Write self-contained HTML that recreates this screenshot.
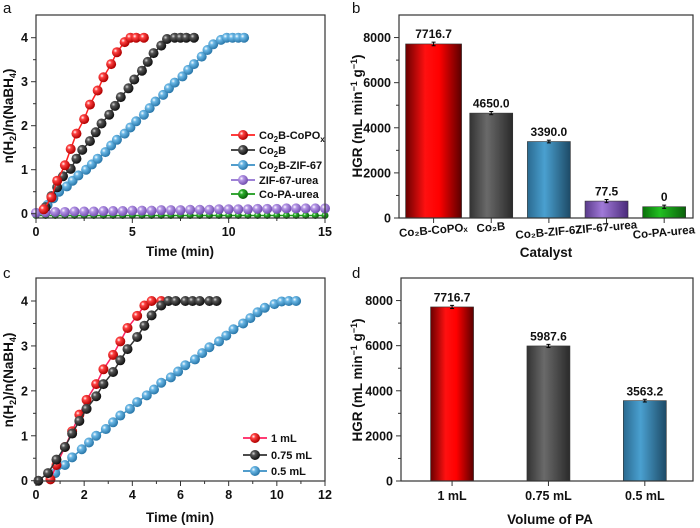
<!DOCTYPE html>
<html><head><meta charset="utf-8"><style>
body{margin:0;background:#fff}
svg{display:block;font-family:"Liberation Sans",Arial,sans-serif}
text{font-weight:bold;fill:#111}
</style></head><body>
<svg id="fig" width="700" height="528" viewBox="0 0 700 528">
<defs>
<radialGradient id="sp-red" cx="35%" cy="35%" r="65%"><stop offset="0" stop-color="#fff"/><stop offset="0.3" stop-color="#ff4040"/><stop offset="1" stop-color="#b00000"/></radialGradient>
<radialGradient id="sp-black" cx="35%" cy="35%" r="65%"><stop offset="0" stop-color="#ddd"/><stop offset="0.3" stop-color="#555"/><stop offset="1" stop-color="#111"/></radialGradient>
<radialGradient id="sp-blue" cx="35%" cy="35%" r="65%"><stop offset="0" stop-color="#fff"/><stop offset="0.3" stop-color="#6bb8e6"/><stop offset="1" stop-color="#2a78aa"/></radialGradient>
<radialGradient id="sp-purple" cx="35%" cy="35%" r="65%"><stop offset="0" stop-color="#fff"/><stop offset="0.3" stop-color="#b596e6"/><stop offset="1" stop-color="#7350b0"/></radialGradient>
<radialGradient id="sp-green" cx="35%" cy="35%" r="65%"><stop offset="0" stop-color="#dfd"/><stop offset="0.3" stop-color="#2cb02c"/><stop offset="1" stop-color="#0a600a"/></radialGradient>
<linearGradient id="bar-red" x1="0" x2="1"><stop offset="0" stop-color="#6a0000"/><stop offset="0.35" stop-color="#ff1010"/><stop offset="0.6" stop-color="#f00"/><stop offset="1" stop-color="#5a0000"/></linearGradient>
<linearGradient id="bar-black" x1="0" x2="1"><stop offset="0" stop-color="#333"/><stop offset="0.4" stop-color="#6a6a6a"/><stop offset="1" stop-color="#2a2a2a"/></linearGradient>
<linearGradient id="bar-blue" x1="0" x2="1"><stop offset="0" stop-color="#2a6a90"/><stop offset="0.4" stop-color="#4aa0d0"/><stop offset="1" stop-color="#1d4a66"/></linearGradient>
<linearGradient id="bar-purple" x1="0" x2="1"><stop offset="0" stop-color="#5a3a8a"/><stop offset="0.4" stop-color="#a07ad8"/><stop offset="1" stop-color="#4a2a7a"/></linearGradient>
<linearGradient id="bar-green" x1="0" x2="1"><stop offset="0" stop-color="#0a700a"/><stop offset="0.4" stop-color="#22c022"/><stop offset="1" stop-color="#0a600a"/></linearGradient>
</defs>
</svg>
<script>
// Panel a data
const aRedT=[0.4,0.8,1.1,1.5,1.8,2.1,2.5,2.8,3.2,3.5,3.9,4.2,4.6,4.9,5.2,5.6];
const aRedY=[0.1,0.37,0.75,1.1,1.47,1.82,2.15,2.48,2.8,3.1,3.4,3.67,3.9,4.0,4.0,4.0];
const aBlackT=[0.5,0.8,1.1,1.4,1.8,2.1,2.4,2.8,3.1,3.4,3.8,4.1,4.4,4.8,5.1,5.5,5.8,6.1,6.5,6.8,7.2,7.5,7.8,8.2];
const aBlackY=[0.15,0.4,0.6,0.85,1.02,1.25,1.45,1.65,1.85,2.05,2.25,2.45,2.65,2.85,3.05,3.25,3.45,3.65,3.82,3.97,4.0,4.0,4.0,4.0];
const aBlueT=[0.6,0.9,1.2,1.6,1.9,2.2,2.6,2.9,3.2,3.6,3.9,4.2,4.6,4.9,5.2,5.6,5.9,6.2,6.6,6.9,7.2,7.6,7.9,8.2,8.6,8.9,9.2,9.6,9.9,10.2,10.5,10.8];
const aBlueY=[0.2,0.35,0.5,0.62,0.75,0.87,1.0,1.12,1.25,1.4,1.55,1.68,1.82,1.96,2.1,2.25,2.4,2.55,2.7,2.85,2.98,3.12,3.27,3.4,3.57,3.72,3.85,3.95,4.0,4.0,4.0,4.0];
const aPurpleT=[0,0.5,1,1.5,2,2.5,3,3.5,4,4.5,5,5.5,6,6.5,7,7.5,8,8.5,9,9.5,10,10.5,11,11.5,12,12.5,13,13.5,14,14.5,15];
const aPurpleY=[0.02,0.03,0.04,0.04,0.05,0.05,0.05,0.06,0.06,0.06,0.07,0.07,0.07,0.08,0.08,0.08,0.09,0.09,0.09,0.1,0.1,0.1,0.1,0.11,0.11,0.11,0.12,0.12,0.12,0.12,0.12];
const aGreenT=[0,0.5,1,1.5,2,2.5,3,3.5,4,4.5,5,5.5,6,6.5,7,7.5,8,8.5,9,9.5,10,10.5,11,11.5,12,12.5,13,13.5,14,14.5,15];
const aGreenY=[-0.04,-0.04,-0.04,-0.04,-0.04,-0.04,-0.04,-0.04,-0.04,-0.04,-0.04,-0.04,-0.04,-0.04,-0.04,-0.04,-0.04,-0.04,-0.04,-0.04,-0.04,-0.04,-0.04,-0.04,-0.04,-0.04,-0.04,-0.04,-0.04,-0.04,-0.04];
// Panel c data
const cRedT=[0.6,0.85,1.2,1.5,1.8,2.1,2.5,2.8,3.2,3.5,3.8,4.2,4.5,4.8,5.2];
const cRedY=[0.03,0.35,0.75,1.1,1.47,1.8,2.15,2.48,2.8,3.1,3.4,3.67,3.9,4.0,4.0];
const cBlackT=[0.1,0.5,0.85,1.2,1.5,1.8,2.1,2.5,2.8,3.2,3.5,3.8,4.2,4.5,4.8,5.2,5.5,5.8,6.2,6.5,6.8,7.2,7.5];
const cBlackY=[0.0,0.17,0.47,0.75,1.05,1.33,1.6,1.88,2.15,2.42,2.68,2.93,3.2,3.45,3.68,3.9,4.0,4.0,4.0,4.0,4.0,4.0,4.0];
const cBlueT=[0.8,1.2,1.5,1.9,2.2,2.5,2.9,3.2,3.5,3.9,4.2,4.6,4.9,5.2,5.6,5.9,6.2,6.6,6.9,7.2,7.6,7.9,8.2,8.6,8.9,9.2,9.5,9.9,10.2,10.5,10.8];
const cBlueY=[0.17,0.35,0.52,0.7,0.85,1.0,1.15,1.3,1.45,1.6,1.75,1.9,2.03,2.18,2.3,2.43,2.57,2.7,2.84,2.97,3.1,3.23,3.37,3.5,3.62,3.75,3.85,3.93,3.99,4.0,4.0];
// Panel b data
const bCats=["Co₂B-CoPOₓ","Co₂B","Co₂B-ZIF-67","ZIF-67-urea","Co-PA-urea"];
const bVals=[7716.7,4650,3390,750,500];
const bErr=[80,70,60,70,70];
const bLabels=["7716.7","4650.0","3390.0","77.5","0"];
// Panel d data
const dCats=["1 mL","0.75 mL","0.5 mL"];
const dVals=[7716.7,5987.6,3563.2];
const dErr=[70,70,60];
const dLabels=["7716.7","5987.6","3563.2"];

const svg=document.getElementById('fig');
const NS='http://www.w3.org/2000/svg';
function el(tag,attrs,parent,text){const e=document.createElementNS(NS,tag);for(const k in attrs)e.setAttribute(k,attrs[k]);if(text!==undefined)e.textContent=text;(parent||svg).appendChild(e);return e;}
function lin(d0,d1,r0,r1){return v=>r0+(v-d0)/(d1-d0)*(r1-r0);}

function frame(g,x0,y0,x1,y1){const r=el('rect',{x:x0,y:y0,width:x1-x0,height:y1-y0,fill:'none',stroke:'#333','stroke-width':1.2},g);}

function xTicks(g,sx,vals,minor,yb,name){
  const ax=el('g',{},g);
  minor.forEach(v=>el('line',{x1:sx(v),x2:sx(v),y1:yb,y2:yb+3,stroke:'#333'},ax));
  vals.forEach(v=>{el('line',{x1:sx(v),x2:sx(v),y1:yb,y2:yb+5,stroke:'#333'},ax);
    el('text',{x:sx(v),y:yb+18,'text-anchor':'middle','font-size':12.5},ax,String(v));});
}
function yTicks(g,sy,vals,minor,xl,name){
  const ax=el('g',{},g);
  minor.forEach(v=>el('line',{x1:xl,x2:xl-3,y1:sy(v),y2:sy(v),stroke:'#333'},ax));
  vals.forEach(v=>{el('line',{x1:xl,x2:xl-5,y1:sy(v),y2:sy(v),stroke:'#333'},ax);
    el('text',{x:xl-8,y:sy(v)+4.5,'text-anchor':'end','font-size':12.5},ax,String(v));});
}
function series(g,sx,sy,T,Y,color,grad,r,name){
  const s=el('g',{},g);
  el('polyline',{points:T.map((t,i)=>sx(t)+','+sy(Y[i])).join(' '),fill:'none',stroke:color,'stroke-width':1.5},s);
  T.forEach((t,i)=>{const c=el('circle',{cx:sx(t),cy:sy(Y[i]),r:r,fill:'url(#'+grad+')'},s);});
}
function legend(g,x,y,label,color,grad,name){
  const l=el('g',{},g);
  el('line',{x1:x,x2:x+24,y1:y,y2:y,stroke:color,'stroke-width':1.8},l);
  el('circle',{cx:x+12,cy:y,r:5,fill:'url(#'+grad+')'},l);
  const t=el('text',{x:x+28,y:y+4,'font-size':11},l);t.innerHTML=label;
}
function ytitle(g,x,y,html,name){const t=el('text',{transform:`translate(${x},${y}) rotate(-90)`,'text-anchor':'middle','font-size':13.5},g);t.innerHTML=html;}
function xtitle(g,x,y,txt,name){const t=el('text',{x:x,y:y,'text-anchor':'middle','font-size':13.5},g,txt);}
function panelLetter(x,y,l){const t=el('text',{x:x,y:y,'font-size':15,style:'font-weight:normal'},svg,l);}
const yTitleLine='n(H<tspan font-size="9" dy="3">2</tspan><tspan dy="-3">)/n(NaBH</tspan><tspan font-size="9" dy="3">4</tspan><tspan dy="-3">)</tspan>';
const yTitleBar='HGR (mL min<tspan font-size="9" dy="-5">−1</tspan><tspan dy="5"> g</tspan><tspan font-size="9" dy="-5">−1</tspan><tspan dy="5">)</tspan>';

// ---------- Panel a ----------
{
 const g=el('g',{});
 const sx=lin(0,15,36,325), sy=lin(0,4,213.7,37.7);
 series(g,sx,sy,aGreenT,aGreenY,'#1a9a1a','sp-green',3.5,'series-co-pa-urea');
 series(g,sx,sy,aPurpleT,aPurpleY,'#9070d0','sp-purple',5,'series-zif-67-urea');
 series(g,sx,sy,aBlueT,aBlueY,'#3a8fc4','sp-blue',5,'series-co2b-zif-67');
 series(g,sx,sy,aBlackT,aBlackY,'#333','sp-black',5,'series-co2b');
 series(g,sx,sy,aRedT,aRedY,'#ff2020','sp-red',5,'series-co2b-copox');
 frame(g,36,15,325,218);
 xTicks(g,sx,[0,5,10,15],[2.5,7.5,12.5],218,'x-axis-a');
 yTicks(g,sy,[0,1,2,3,4],[0.5,1.5,2.5,3.5],36,'y-axis-a');
 xtitle(g,180,256,'Time (min)','x-axis-title-a');
 ytitle(g,13,116,yTitleLine,'y-axis-title-a');
 legend(g,231,135,'Co<tspan font-size="8" dy="3">2</tspan><tspan dy="-3">B-CoPO</tspan><tspan font-size="8" dy="3">x</tspan>','#ff2020','sp-red','legend-co2b-copox');
 legend(g,231,150,'Co<tspan font-size="8" dy="3">2</tspan><tspan dy="-3">B</tspan>','#333','sp-black','legend-co2b');
 legend(g,231,165,'Co<tspan font-size="8" dy="3">2</tspan><tspan dy="-3">B-ZIF-67</tspan>','#3a8fc4','sp-blue','legend-co2b-zif-67');
 legend(g,231,180,'ZIF-67-urea','#9070d0','sp-purple','legend-zif-67-urea');
 legend(g,231,194,'Co-PA-urea','#1a9a1a','sp-green','legend-co-pa-urea');
 panelLetter(3,13,'a');
}
// ---------- Panel c ----------
{
 const g=el('g',{});
 const sx=lin(0,12,36,325), sy=lin(0,4,480.7,301);
 series(g,sx,sy,cBlueT,cBlueY,'#3a8fc4','sp-blue',5,'series-0.5ml');
 series(g,sx,sy,cRedT,cRedY,'#ff2060','sp-red',5,'series-1ml');
 series(g,sx,sy,cBlackT,cBlackY,'#333','sp-black',5,'series-0.75ml');
 frame(g,36,278,325,481);
 xTicks(g,sx,[0,2,4,6,8,10,12],[1,3,5,7,9,11],481,'x-axis-c');
 yTicks(g,sy,[0,1,2,3,4],[0.5,1.5,2.5,3.5],36,'y-axis-c');
 xtitle(g,180,522,'Time (min)','x-axis-title-c');
 ytitle(g,13,380,yTitleLine,'y-axis-title-c');
 legend(g,243,438,'1 mL','#ff2060','sp-red','legend-1ml');
 legend(g,243,455,'0.75 mL','#333','sp-black','legend-0.75ml');
 legend(g,243,471,'0.5 mL','#3a8fc4','sp-blue','legend-0.5ml');
 panelLetter(3,278,'c');
}
// ---------- bar panels ----------
const grads=['bar-red','bar-black','bar-blue','bar-purple','bar-green'];
function barPanel(name,x0,y0,x1,y1,d0,d1,cats,vals,errs,labels,widths,rot,catY,catFs){
 const g=el('g',{});
 const sx=lin(d0,d1,x0,x1), sy=lin(0,9000,y1,y0);
 vals.forEach((v,i)=>{const cx=sx(i+1),w=widths[i];
  const r=el('rect',{x:cx-w/2,y:sy(v),width:w,height:y1-sy(v),fill:'url(#'+grads[i]+')',stroke:'#333','stroke-width':0.6},g);
  
  const e=el('g',{},g);
  el('line',{x1:cx,x2:cx,y1:sy(v+errs[i]),y2:sy(v-errs[i]),stroke:'#000'},e);
  el('line',{x1:cx-2,x2:cx+2,y1:sy(v+errs[i]),y2:sy(v+errs[i]),stroke:'#000'},e);
  el('line',{x1:cx-2,x2:cx+2,y1:sy(v-errs[i]),y2:sy(v-errs[i]),stroke:'#000'},e);
  const t=el('text',{x:cx,y:sy(v+errs[i])-4,'text-anchor':'middle','font-size':12},g,labels[i]);
  
 });
 frame(g,x0,y0,x1,y1);
 const ya=el('g',{},g);
 [1000,3000,5000,7000].forEach(v=>el('line',{x1:x0,x2:x0-3,y1:sy(v),y2:sy(v),stroke:'#333'},ya));
 [0,2000,4000,6000,8000].forEach(v=>{el('line',{x1:x0,x2:x0-5,y1:sy(v),y2:sy(v),stroke:'#333'},ya);
   el('text',{x:x0-8,y:sy(v)+4.5,'text-anchor':'end','font-size':12.5},ya,String(v));});
 const xa=el('g',{},g);
 cats.forEach((c,i)=>{const cx=sx(i+1);el('line',{x1:cx,x2:cx,y1:y1,y2:y1+5,stroke:'#333'},xa);
   el('text',{transform:`translate(${cx},${catY[i]}) rotate(${rot})`,'text-anchor':'middle','font-size':catFs},xa,c);});
 return g;
}
{
 const g=barPanel('panel-b',399,15,693,218,0.4,5.5,bCats,bVals,bErr,bLabels,[56,43,43,43,43],-5,[234,231,236,231,236],11.5);
 xtitle(g,546,257,'Catalyst','x-axis-title-b');
 ytitle(g,362,116,yTitleBar,'y-axis-title-b');
 panelLetter(352,13,'b');
}
{
 const g=barPanel('panel-d',401,278,693,481,0.47,3.5,dCats,dVals,dErr,dLabels,[43,43,43],0,[500,500,500],12.5);
 xtitle(g,550,524,'Volume of PA','x-axis-title-d');
 ytitle(g,362,380,yTitleBar,'y-axis-title-d');
 panelLetter(352,278,'d');
}
</script>
</body></html>
